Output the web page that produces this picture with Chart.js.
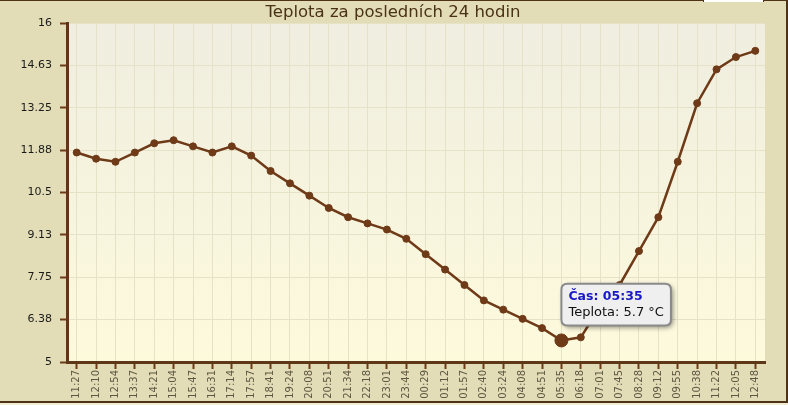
<!DOCTYPE html>
<html lang="cs">
<head>
<meta charset="UTF-8">
<title>Teplota za posledních 24 hodin</title>
<script src="https://cdn.jsdelivr.net/npm/chart.js"></script>
<style>
  body { margin: 0; background: #f1ecd2; }
  .ramecek {
    position: absolute; left: 0; top: 0;
    width: 786px; height: 400px;
    background: #e2ddb6;
    border-top: 1px solid #4e3318;
    border-right: 2px solid #4e3318;
    border-bottom: 2px solid #4e3318;
  }
  .zarez {
    position: absolute; left: 703px; top: 0;
    width: 59px; height: 2px; background: #fff;
    border-left: 1px solid #4e3318; border-right: 1px solid #4e3318;
  }
  .graf { position: relative; width: 786px; height: 400px; }
</style>
</head>
<body>
<div class="ramecek">
  <div class="graf"><canvas id="grafTeplota"></canvas></div>
</div>
<div class="zarez"></div>

<script>
// data z mereni
const casy = ['11:27','12:10','12:54','13:37','14:21','15:04','15:47','16:31','17:14','17:57',
  '18:41','19:24','20:08','20:51','21:34','22:18','23:01','23:44','00:29','01:12',
  '01:57','02:40','03:24','04:08','04:51','05:35','06:18','07:01','07:45','08:28',
  '09:12','09:55','10:38','11:22','12:05','12:48'];
const teploty = [11.8, 11.6, 11.5, 11.8, 12.1, 12.2, 12.0, 11.8, 12.0, 11.7,
  11.2, 10.8, 10.4, 10.0, 9.7, 9.5, 9.3, 9.0, 8.5, 8.0,
  7.5, 7.0, 6.7, 6.4, 6.1, 5.7, 5.8, 6.8, 7.5, 8.6,
  9.7, 11.5, 13.4, 14.5, 14.9, 15.1];
const osaY = [5, 6.38, 7.75, 9.13, 10.5, 11.88, 13.25, 14.63, 16];
const vybranyBod = 5 + 20; // 05:35

const hneda = '#6e3a18';
Chart.defaults.font.family = "'DejaVu Sans', Verdana, sans-serif";

// pozadi plochy grafu
const pozadi = {
  id: 'pozadi',
  beforeDraw(chart) {
    const a = chart.chartArea, ctx = chart.ctx;
    const g = ctx.createLinearGradient(0, a.top, 0, a.bottom);
    g.addColorStop(0, '#efeee0');
    g.addColorStop(1, '#fdfadc');
    ctx.save();
    ctx.fillStyle = g;
    ctx.fillRect(a.left, a.top, a.right - a.left, a.bottom - a.top);
    ctx.restore();
  }
};

// stin pod tooltipem
const stin = {
  id: 'stin',
  beforeTooltipDraw(chart, args) {
    const t = args.tooltip, ctx = chart.ctx;
    if (!t.opacity) return;
    ctx.save();
    ctx.shadowColor = 'rgba(0,0,0,0.45)';
    ctx.shadowBlur = 5;
    ctx.shadowOffsetX = 2;
    ctx.shadowOffsetY = 2;
    ctx.fillStyle = '#9a9a9a';
    ctx.beginPath();
    ctx.roundRect(t.x, t.y, t.width, t.height, 6);
    ctx.fill();
    ctx.restore();
  }
};

Chart.Tooltip.positioners.uBodu = function(items) {
  if (!items.length) return false;
  const el = items[0].element;
  return { x: el.x + 6, y: el.y };
};

const ctx = document.getElementById('grafTeplota').getContext('2d');
const graf = new Chart(ctx, {
  type: 'line',
  data: {
    labels: casy,
    datasets: [{
      label: 'Teplota',
      data: teploty,
      borderColor: hneda,
      borderWidth: 2.5,
      backgroundColor: hneda,
      pointBackgroundColor: hneda,
      pointBorderColor: hneda,
      pointRadius: 3.5,
      pointBorderWidth: 1,
      pointHoverRadius: 6.5,
      pointHoverBackgroundColor: hneda,
      pointHoverBorderColor: hneda,
      tension: 0,
      fill: false
    }]
  },
  plugins: [pozadi, stin],
  options: {
    responsive: true,
    maintainAspectRatio: false,
    animation: false,
    layout: { padding: 0 },
    plugins: {
      legend: { display: false },
      title: {
        display: true,
        text: 'Teplota za posledních 24 hodin',
        color: '#4a3216',
        font: { size: 16.5, weight: 'normal', lineHeight: 1.1 },
        padding: { top: 3, bottom: 1 }
      },
      tooltip: {
        position: 'uBodu',
        xAlign: 'left',
        yAlign: 'bottom',
        caretSize: 0,
        caretPadding: 15,
        cornerRadius: 6,
        backgroundColor: '#efefef',
        borderColor: '#8a8a8a',
        borderWidth: 2,
        displayColors: false,
        padding: { left: 7, right: 7, top: 5, bottom: 5 },
        titleColor: '#1818c8',
        titleFont: { size: 12.5, weight: 'bold' },
        titleMarginBottom: 1,
        bodyColor: '#111',
        bodyFont: { size: 13 },
        callbacks: {
          title: items => 'Čas: ' + items[0].label,
          label: item => 'Teplota: ' + item.parsed.y + ' °C'
        }
      }
    },
    scales: {
      x: {
        offset: true,
        grid: {
          color: '#e5e2c8',
          lineWidth: 1,
          tickColor: hneda,
          tickLength: 7,
          tickWidth: 2
        },
        border: { color: '#5e3618', width: 3 },
        ticks: {
          minRotation: 90,
          maxRotation: 90,
          autoSkip: false,
          padding: 1,
          color: '#5f5643',
          font: { size: 10 }
        },
        afterFit(s) { s.height = 39; }
      },
      y: {
        min: 5,
        max: 16,
        grid: {
          color: '#e5e2c8',
          lineWidth: 1,
          tickColor: hneda,
          tickLength: 7,
          tickWidth: 2
        },
        border: { color: '#5e3618', width: 3 },
        afterBuildTicks(s) { s.ticks = osaY.map(v => ({ value: v })); },
        ticks: {
          padding: 8,
          color: '#1a1a1a',
          font: { size: 11 },
          callback: v => String(v)
        },
        afterFit(s) { s.width = 67; }
      },
      vpravo: {
        position: 'right',
        display: true,
        grid: { display: false, drawTicks: false },
        border: { display: false },
        ticks: { display: false },
        afterFit(s) { s.width = 21; }
      }
    }
  }
});

graf.setActiveElements([{ datasetIndex: 0, index: vybranyBod }]);
graf.tooltip.setActiveElements([{ datasetIndex: 0, index: vybranyBod }], { x: 0, y: 0 });
graf.update('none');
</script>
</body>
</html>
